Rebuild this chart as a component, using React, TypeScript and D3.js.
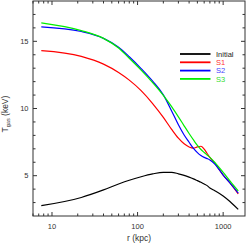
import React from "react";
import * as d3 from "d3";

const radius = [7.5, 22, 40, 60, 80, 110, 150, 200, 250, 300, 350, 400, 450, 500, 550, 600, 650, 700, 800, 1000, 1200, 1500];
const tInitial = [2.77, 3.38, 3.94, 4.38, 4.66, 4.92, 5.13, 5.25, 5.25, 5.14, 5.02, 4.89, 4.76, 4.63, 4.51, 4.38, 4.26, 4.09, 3.88, 3.49, 3.08, 2.49];
const tS1 = [14.3, 13.88, 13.3, 12.68, 12.11, 11.33, 10.37, 9.34, 8.45, 7.79, 7.37, 7.14, 7.05, 7.14, 7.19, 6.97, 6.65, 6.36, 5.91, 5.05, 4.46, 3.64];
const tS2 = [16.08, 15.73, 15.22, 14.56, 13.85, 12.97, 12.03, 11.01, 9.82, 8.79, 8.03, 7.49, 7.03, 6.72, 6.5, 6.36, 6.27, 6.17, 5.87, 5.05, 4.46, 3.71];
const tS3 = [16.37, 15.8, 15.22, 14.5, 13.74, 12.86, 11.93, 10.98, 10.14, 9.38, 8.71, 8.14, 7.66, 7.25, 6.95, 6.73, 6.54, 6.36, 5.98, 5.24, 4.61, 3.86];

const seriesNames = ["Initial", "S1", "S2", "S3"];
const seriesColors = ["#000000", "#ff0000", "#0000ff", "#00ee00"];
const legendTextColors = ["#222222", "#ff3333", "#4444ff", "#33dd33"];
const seriesValues = [tInitial, tS1, tS2, tS3];

const xMajorTicks = [10, 100, 1000];
const yMajorTicks = [5, 10, 15];

const W = 249;
const H = 245;
const left = 33, right = 245, top = 1, bottom = 216;
const font = "Liberation Sans, Arial, Helvetica, sans-serif";

export default function App() {
  const x = d3.scaleLog().domain([6, 1800]).range([left, right]);
  const y = d3.scaleLinear().domain([2, 18]).range([bottom, top]);

  const xMinor: number[] = [];
  for (let p = 0; p <= 3; p++) {
    for (let m = 1; m <= 9; m++) {
      const v = m * Math.pow(10, p);
      if (v >= 6 && v <= 1800 && !xMajorTicks.includes(v)) xMinor.push(v);
    }
  }
  const yMinor = d3.range(3, 18, 1).filter((v) => !yMajorTicks.includes(v));

  const line = d3
    .line<number>()
    .x((_, i) => x(radius[i]))
    .y((d) => y(d))
    .curve(d3.curveMonotoneX);

  const axisColor = "#333";
  const majLen = 4;
  const minLen = 2.5;

  return (
    <svg width={W} height={H} style={{ position: "absolute", left: 0, top: 0 }} fontFamily={font}>
      <rect x={0} y={0} width={W} height={H} fill="#fff" />
      {seriesValues.map((vals, i) => (
        <path key={i} d={line(vals) || ""} fill="none" stroke={seriesColors[i]} strokeWidth={1.2} />
      ))}
      <rect x={left} y={top} width={right - left} height={bottom - top} fill="none" stroke={axisColor} strokeWidth={1} />
      {xMajorTicks.map((v) => (
        <g key={"xm" + v}>
          <line x1={x(v)} x2={x(v)} y1={bottom} y2={bottom - majLen} stroke={axisColor} />
          <line x1={x(v)} x2={x(v)} y1={top} y2={top + majLen} stroke={axisColor} />
          <text x={x(v)} y={229} fontSize={7.5} textAnchor="middle" fill="#333">
            {v}
          </text>
        </g>
      ))}
      {xMinor.map((v) => (
        <g key={"xn" + v}>
          <line x1={x(v)} x2={x(v)} y1={bottom} y2={bottom - minLen} stroke={axisColor} />
          <line x1={x(v)} x2={x(v)} y1={top} y2={top + minLen} stroke={axisColor} />
        </g>
      ))}
      {yMajorTicks.map((v) => (
        <g key={"ym" + v}>
          <line x1={left} x2={left + majLen} y1={y(v)} y2={y(v)} stroke={axisColor} />
          <line x1={right} x2={right - majLen} y1={y(v)} y2={y(v)} stroke={axisColor} />
          <text x={28.5} y={y(v) + 2.7} fontSize={7.5} textAnchor="end" fill="#333">
            {v}
          </text>
        </g>
      ))}
      {yMinor.map((v) => (
        <g key={"yn" + v}>
          <line x1={left} x2={left + minLen} y1={y(v)} y2={y(v)} stroke={axisColor} />
          <line x1={right} x2={right - minLen} y1={y(v)} y2={y(v)} stroke={axisColor} />
        </g>
      ))}
      <text x={(left + right) / 2} y={241} fontSize={8.5} textAnchor="middle" fill="#333">
        r (kpc)
      </text>
      <text transform="translate(7.5,114) rotate(-90)" fontSize={8.5} textAnchor="middle" fill="#333">
        <tspan>T</tspan>
        <tspan dy={2} fontSize={5.5}>gas</tspan>
        <tspan dy={-2}> (keV)</tspan>
      </text>
      {seriesNames.map((name, i) => (
        <g key={name}>
          <line x1={180} x2={210.5} y1={54 + i * 8.3} y2={54 + i * 8.3} stroke={seriesColors[i]} strokeWidth={1.8} />
          <text x={216} y={54 + i * 8.3 + 2.7} fontSize={7.5} fill={legendTextColors[i]}>
            {name}
          </text>
        </g>
      ))}
    </svg>
  );
}
